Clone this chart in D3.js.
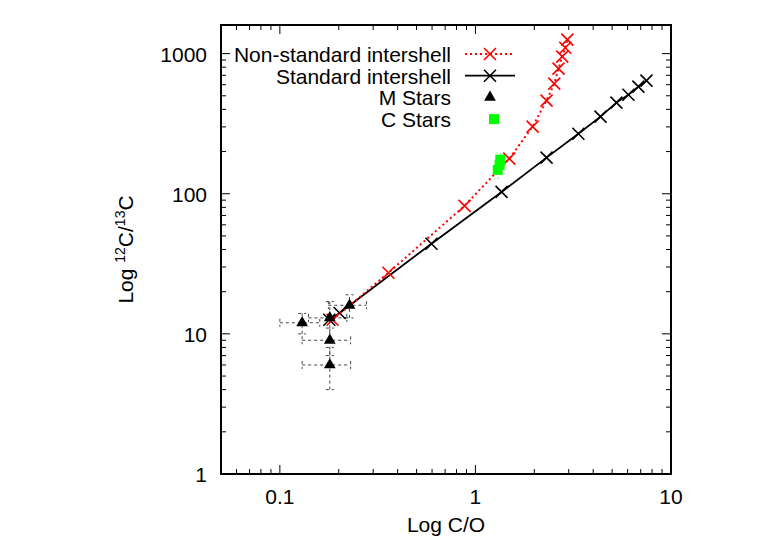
<!DOCTYPE html>
<html><head><meta charset="utf-8">
<script src="https://cdn.jsdelivr.net/npm/d3@7/dist/d3.min.js"></script>
<style>body{margin:0;background:#fff}svg{display:block}text{font-family:"Liberation Sans",Arial,sans-serif}</style>
</head><body><svg id="c" width="778" height="545"></svg>
<script>
// Non-standard intershell model (C/O, 12C/13C)
const nonStdCO = [0.186, 0.359, 0.88, 1.49, 1.96, 2.31, 2.53, 2.66, 2.78, 2.88, 2.95];
const nonStdRatio = [12.6, 27.3, 82, 178, 301, 462, 610, 782, 952, 1100, 1259];
// Standard intershell model
const stdCO = [0.179, 0.202, 0.596, 1.36, 2.31, 3.36, 4.36, 5.26, 6.06, 6.81, 7.49];
const stdRatio = [12.6, 14.1, 44, 103, 181, 268, 355, 447, 509, 581, 641];
// M stars with errors
const mCO = [0.13, 0.18, 0.18, 0.18, 0.227];
const mCOerr = [0.03, 0.04, 0.05, 0.05, 0.05];
const mRatio = [12, 13, 9, 6, 16];
const mRatioErr = [2, 4, 2, 2, 3];
// C stars with errors
const cCO = [1.34, 1.33, 1.30];
const cCOerr = [0.04, 0.04, 0.04];
const cRatio = [175, 161, 148];
const cRatioErr = [20, 20, 20];
const xTicks = [0.1, 1, 10];
const yTicks = [1, 10, 100, 1000];

const svg = d3.select("#c");
const L = 221, R = 671, T = 25, B = 474;
const FS = 21;
const x = d3.scaleLog().domain([0.05, 10]).range([L, R]);
const y = d3.scaleLog().domain([1, 1600]).range([B, T]);

// minor ticks
const minorX = [], minorY = [];
for (let e = -2; e <= 1; e++) for (let m = 2; m <= 9; m++) { const v = m * Math.pow(10, e); if (v > 0.05 && v < 10) minorX.push(v); }
for (let e = 0; e <= 3; e++) for (let m = 2; m <= 9; m++) { const v = m * Math.pow(10, e); if (v > 1 && v < 1600) minorY.push(v); }

const g = svg.append("g");
const tk = g.append("g").attr("stroke", "#000").attr("stroke-width", 1);
xTicks.forEach(v => { tk.append("line").attr("x1", x(v)).attr("x2", x(v)).attr("y1", B).attr("y2", B - 9); tk.append("line").attr("x1", x(v)).attr("x2", x(v)).attr("y1", T).attr("y2", T + 9); });
minorX.forEach(v => { tk.append("line").attr("x1", x(v)).attr("x2", x(v)).attr("y1", B).attr("y2", B - 5); tk.append("line").attr("x1", x(v)).attr("x2", x(v)).attr("y1", T).attr("y2", T + 5); });
yTicks.forEach(v => { tk.append("line").attr("y1", y(v)).attr("y2", y(v)).attr("x1", L).attr("x2", L + 9); tk.append("line").attr("y1", y(v)).attr("y2", y(v)).attr("x1", R).attr("x2", R - 9); });
minorY.forEach(v => { tk.append("line").attr("y1", y(v)).attr("y2", y(v)).attr("x1", L).attr("x2", L + 5); tk.append("line").attr("y1", y(v)).attr("y2", y(v)).attr("x1", R).attr("x2", R - 5); });

xTicks.forEach(v => g.append("text").attr("x", x(v)).attr("y", B + 30).attr("text-anchor", "middle").attr("font-size", FS).text(v));
yTicks.forEach(v => g.append("text").attr("x", L - 14).attr("y", y(v) + 8).attr("text-anchor", "end").attr("font-size", FS).text(v));

g.append("text").attr("x", (L + R) / 2).attr("y", 532).attr("text-anchor", "middle").attr("font-size", FS).text("Log C/O");
const yl = g.append("text").attr("transform", `translate(133,${(T + B) / 2}) rotate(-90)`).attr("text-anchor", "middle").attr("font-size", FS);
yl.append("tspan").text("Log ");
yl.append("tspan").attr("font-size", 14).attr("dy", -8).text("12");
yl.append("tspan").attr("dy", 8).text("C/");
yl.append("tspan").attr("font-size", 14).attr("dy", -8).text("13");
yl.append("tspan").attr("dy", 8).text("C");

// error bars
function errBars(co, coe, r, re, color, dash) {
  const eg = svg.append("g").attr("stroke", color).attr("stroke-width", 1).attr("stroke-dasharray", dash).attr("fill", "none");
  co.forEach((c, i) => {
    const cx = x(c), cy = y(r[i]);
    const x0 = x(c - coe[i]), x1 = x(c + coe[i]), y0 = y(r[i] - re[i]), y1 = y(r[i] + re[i]);
    eg.append("line").attr("x1", x0).attr("x2", x1).attr("y1", cy).attr("y2", cy);
    eg.append("line").attr("x1", cx).attr("x2", cx).attr("y1", y0).attr("y2", y1);
    eg.append("line").attr("x1", x0).attr("x2", x0).attr("y1", cy - 4).attr("y2", cy + 4);
    eg.append("line").attr("x1", x1).attr("x2", x1).attr("y1", cy - 4).attr("y2", cy + 4);
    eg.append("line").attr("x1", cx - 4).attr("x2", cx + 4).attr("y1", y0).attr("y2", y0);
    eg.append("line").attr("x1", cx - 4).attr("x2", cx + 4).attr("y1", y1).attr("y2", y1);
  });
}
errBars(mCO, mCOerr, mRatio, mRatioErr, "#444", "3,3");
errBars(cCO, cCOerr, cRatio, cRatioErr, "#9f9", "2,2");

const line = d3.line().x(d => x(d[0])).y(d => y(d[1]));
function cross(sel, px, py, color) {
  const s = 6;
  sel.append("path").attr("d", `M${px - s},${py - s}L${px + s},${py + s}M${px - s},${py + s}L${px + s},${py - s}`).attr("stroke", color).attr("stroke-width", 1.6).attr("fill", "none");
}
const stdData = stdCO.map((c, i) => [c, stdRatio[i]]);
const nsData = nonStdCO.map((c, i) => [c, nonStdRatio[i]]);
svg.append("path").attr("d", line(stdData)).attr("stroke", "#000").attr("stroke-width", 1.8).attr("fill", "none");
stdData.forEach(d => cross(svg, x(d[0]), y(d[1]), "#000"));
svg.append("path").attr("d", line(nsData)).attr("stroke", "#f00").attr("stroke-width", 2).attr("stroke-dasharray", "2,3").attr("fill", "none");
nsData.forEach(d => cross(svg, x(d[0]), y(d[1]), "#f00"));

const tri = d3.symbol().type(d3.symbolTriangle).size(60);
mCO.forEach((c, i) => svg.append("path").attr("d", tri()).attr("transform", `translate(${x(c)},${y(mRatio[i])})`).attr("fill", "#000"));
cCO.forEach((c, i) => svg.append("rect").attr("x", x(c) - 5).attr("y", y(cRatio[i]) - 5).attr("width", 10).attr("height", 10).attr("fill", "#0f0"));

// legend
const lg = svg.append("g");
const rows = [
  { t: "Non-standard intershell", k: "ns" },
  { t: "Standard intershell", k: "std" },
  { t: "M Stars", k: "m" },
  { t: "C Stars", k: "c" }
];
rows.forEach((r, i) => {
  const ly = 54 + i * 21.7;
  lg.append("text").attr("x", 451).attr("y", ly + 8).attr("text-anchor", "end").attr("font-size", FS).text(r.t);
  if (r.k === "ns") {
    lg.append("line").attr("x1", 465).attr("x2", 515).attr("y1", ly).attr("y2", ly).attr("stroke", "#f00").attr("stroke-width", 2).attr("stroke-dasharray", "2,3");
    cross(lg, 490, ly, "#f00");
  } else if (r.k === "std") {
    lg.append("line").attr("x1", 465).attr("x2", 515).attr("y1", ly).attr("y2", ly).attr("stroke", "#000").attr("stroke-width", 1.8);
    cross(lg, 490, ly, "#000");
  } else if (r.k === "m") {
    lg.append("path").attr("d", tri()).attr("transform", `translate(490,${ly})`).attr("fill", "#000");
  } else {
    lg.append("rect").attr("x", 489).attr("y", ly - 5).attr("width", 10).attr("height", 10).attr("fill", "#0f0");
  }
});

svg.append("rect").attr("x", L).attr("y", T).attr("width", R - L).attr("height", B - T).attr("fill", "none").attr("stroke", "#000").attr("stroke-width", 2);
</script></body></html>
